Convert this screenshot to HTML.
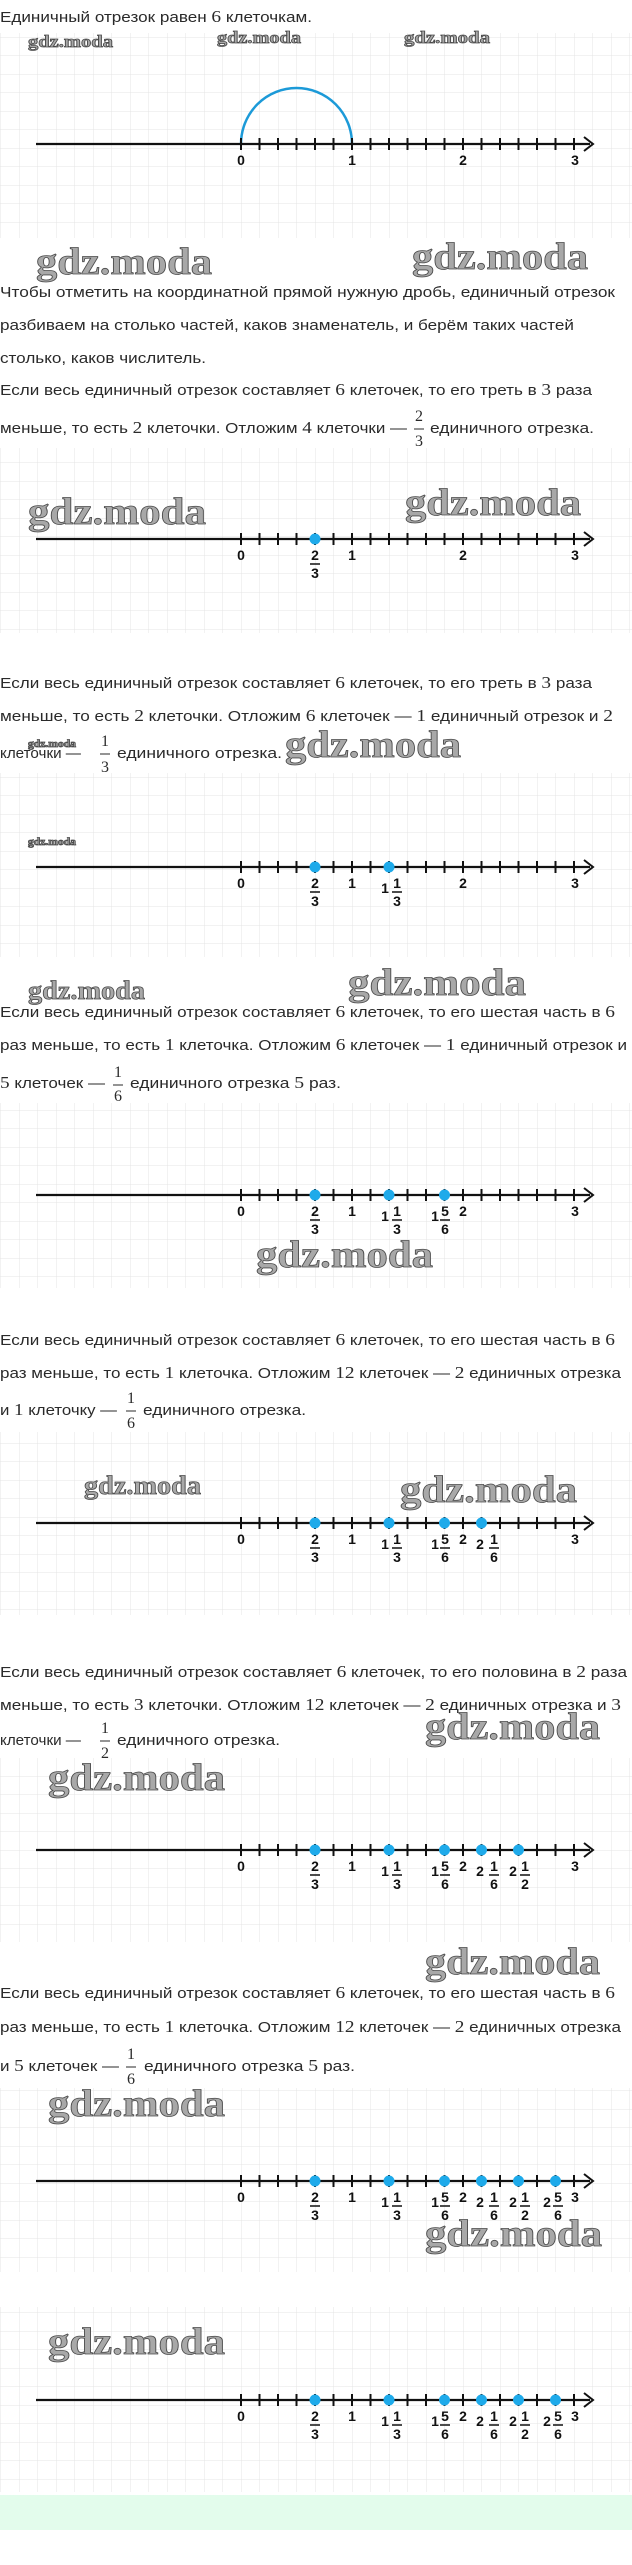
<!DOCTYPE html>
<html><head><meta charset="utf-8"><style>
html,body{margin:0;padding:0;background:#fff;}
svg{display:block;}
.t{font-family:"Liberation Sans",sans-serif;font-size:15px;fill:#2a2a2a;}
.s{font-family:"Liberation Serif",serif;font-size:17px;}
.f{font-family:"Liberation Serif",serif;font-size:16px;fill:#2a2a2a;text-anchor:middle;}
.n{font-family:"Liberation Sans",sans-serif;font-size:14px;font-weight:bold;fill:#111;text-anchor:middle;}
.wm{font-family:"Liberation Serif",serif;font-weight:bold;fill:#a8a8a8;stroke:#4a4a4a;stroke-width:0.8;}
</style></head><body>
<svg width="632" height="2565" viewBox="0 0 632 2565" xmlns="http://www.w3.org/2000/svg">
<defs>
<pattern id="g" x="241" y="0" width="18.5" height="18.5" patternUnits="userSpaceOnUse">
<path d="M0 0V18.5M0 0H18.5" stroke="#e4e4e4" stroke-width="1" fill="none"/>
</pattern>
<g id="ax">
<path d="M36 0H590" stroke="#111" stroke-width="2.2"/>
<path d="M241 -6v12M259.5 -6v12M278 -6v12M296.5 -6v12M315 -6v12M333.5 -6v12M352 -6v12M370.5 -6v12M389 -6v12M407.5 -6v12M426 -6v12M444.5 -6v12M463 -6v12M481.5 -6v12M500 -6v12M518.5 -6v12M537 -6v12M555.5 -6v12M574 -6v12" stroke="#111" stroke-width="2"/>
<path d="M584 -7L593 0L584 7" stroke="#111" stroke-width="2" fill="none"/>
</g>
</defs>
<rect x="0" y="0" width="632" height="2565" fill="#fff"/>
<!-- grids -->
<rect x="0" y="33" width="632" height="205" fill="url(#g)"/>
<rect x="0" y="448" width="632" height="185" fill="url(#g)"/>
<rect x="0" y="773" width="632" height="184" fill="url(#g)"/>
<rect x="0" y="1103" width="632" height="185" fill="url(#g)"/>
<rect x="0" y="1432" width="632" height="183" fill="url(#g)"/>
<rect x="0" y="1758" width="632" height="184" fill="url(#g)"/>
<rect x="0" y="2088" width="632" height="184" fill="url(#g)"/>
<rect x="0" y="2307" width="632" height="185" fill="url(#g)"/>
<rect x="0" y="2495" width="632" height="35" fill="#e3fcec"/>

<!-- Section 1 -->
<text class="t" x="0" y="22" textLength="312" lengthAdjust="spacingAndGlyphs">Единичный отрезок равен <tspan class="s">6</tspan> клеточкам.</text>
<text class="wm" x="28" y="47" font-size="17" textLength="85" lengthAdjust="spacingAndGlyphs">gdz.moda</text>
<text class="wm" x="217" y="43" font-size="17" textLength="84" lengthAdjust="spacingAndGlyphs">gdz.moda</text>
<text class="wm" x="404" y="43" font-size="17" textLength="86" lengthAdjust="spacingAndGlyphs">gdz.moda</text>
<path d="M241 144A55.5 56 0 0 1 352 144" stroke="#1c9ad8" stroke-width="2.5" fill="none"/>
<use href="#ax" y="144"/>
<text class="n" x="241" y="165">0</text><text class="n" x="352" y="165">1</text><text class="n" x="463" y="165">2</text><text class="n" x="575" y="165">3</text>
<text class="wm" x="36" y="274" font-size="38" textLength="176" lengthAdjust="spacingAndGlyphs">gdz.moda</text>
<text class="wm" x="412" y="269" font-size="38" textLength="176" lengthAdjust="spacingAndGlyphs">gdz.moda</text>

<!-- Para 2 -->
<text class="t" x="0" y="297" textLength="615" lengthAdjust="spacingAndGlyphs">Чтобы отметить на координатной прямой нужную дробь, единичный отрезок</text>
<text class="t" x="0" y="330" textLength="574" lengthAdjust="spacingAndGlyphs">разбиваем на столько частей, каков знаменатель, и берём таких частей</text>
<text class="t" x="0" y="363" textLength="206" lengthAdjust="spacingAndGlyphs">столько, каков числитель.</text>
<text class="t" x="0" y="395" textLength="592" lengthAdjust="spacingAndGlyphs">Если весь единичный отрезок составляет <tspan class="s">6</tspan> клеточек, то его треть в <tspan class="s">3</tspan> раза</text>
<text class="t" x="0" y="433" textLength="407" lengthAdjust="spacingAndGlyphs">меньше, то есть <tspan class="s">2</tspan> клеточки. Отложим <tspan class="s">4</tspan> клеточки —</text>
<text class="f" x="419" y="421">2</text><path d="M414 429H424" stroke="#2a2a2a" stroke-width="1"/><text class="f" x="419" y="446">3</text>
<text class="t" x="430" y="433" textLength="164" lengthAdjust="spacingAndGlyphs">единичного отрезка.</text>

<!-- Section 2 -->
<text class="wm" x="28" y="524" font-size="38" textLength="178" lengthAdjust="spacingAndGlyphs">gdz.moda</text>
<text class="wm" x="405" y="515" font-size="38" textLength="176" lengthAdjust="spacingAndGlyphs">gdz.moda</text>
<use href="#ax" y="539"/>
<circle cx="315" cy="539" r="5.5" fill="#1eaaea"/>
<text class="n" x="241" y="560">0</text><text class="n" x="352" y="560">1</text><text class="n" x="463" y="560">2</text><text class="n" x="575" y="560">3</text>
<text class="n" x="315" y="560">2</text><path d="M310 564H320" stroke="#111" stroke-width="1.5"/><text class="n" x="315" y="578">3</text>

<!-- Para 3 -->
<text class="t" x="0" y="688" textLength="592" lengthAdjust="spacingAndGlyphs">Если весь единичный отрезок составляет <tspan class="s">6</tspan> клеточек, то его треть в <tspan class="s">3</tspan> раза</text>
<text class="t" x="0" y="721" textLength="613" lengthAdjust="spacingAndGlyphs">меньше, то есть <tspan class="s">2</tspan> клеточки. Отложим <tspan class="s">6</tspan> клеточек — <tspan class="s">1</tspan> единичный отрезок и <tspan class="s">2</tspan></text>
<text class="wm" x="28" y="747" font-size="10" textLength="48" lengthAdjust="spacingAndGlyphs">gdz.moda</text>
<text class="t" x="0" y="758" textLength="81" lengthAdjust="spacingAndGlyphs">клеточки —</text>
<text class="f" x="105" y="746">1</text><path d="M100 754H110" stroke="#2a2a2a" stroke-width="1"/><text class="f" x="105" y="772">3</text>
<text class="t" x="117" y="758" textLength="165" lengthAdjust="spacingAndGlyphs">единичного отрезка.</text>
<text class="wm" x="285" y="757" font-size="38" textLength="176" lengthAdjust="spacingAndGlyphs">gdz.moda</text>

<!-- Section 3 -->
<text class="wm" x="28" y="845" font-size="10" textLength="48" lengthAdjust="spacingAndGlyphs">gdz.moda</text>
<use href="#ax" y="867"/>
<circle cx="315" cy="867" r="5.5" fill="#1eaaea"/><circle cx="389" cy="867" r="5.5" fill="#1eaaea"/>
<text class="n" x="241" y="888">0</text><text class="n" x="352" y="888">1</text><text class="n" x="463" y="888">2</text><text class="n" x="575" y="888">3</text>
<text class="n" x="315" y="888">2</text><path d="M310 892H320" stroke="#111" stroke-width="1.5"/><text class="n" x="315" y="906">3</text>
<text class="n" x="385" y="893" font-size="12">1</text><text class="n" x="397" y="888">1</text><path d="M392 892H402" stroke="#111" stroke-width="1.5"/><text class="n" x="397" y="906">3</text>
<text class="wm" x="28" y="999" font-size="26" textLength="117" lengthAdjust="spacingAndGlyphs">gdz.moda</text>
<text class="wm" x="348" y="995" font-size="38" textLength="178" lengthAdjust="spacingAndGlyphs">gdz.moda</text>

<!-- Para 4 -->
<text class="t" x="0" y="1017" textLength="615" lengthAdjust="spacingAndGlyphs">Если весь единичный отрезок составляет <tspan class="s">6</tspan> клеточек, то его шестая часть в <tspan class="s">6</tspan></text>
<text class="t" x="0" y="1050" textLength="627" lengthAdjust="spacingAndGlyphs">раз меньше, то есть <tspan class="s">1</tspan> клеточка. Отложим <tspan class="s">6</tspan> клеточек — <tspan class="s">1</tspan> единичный отрезок и</text>
<text class="t" x="0" y="1088" textLength="105" lengthAdjust="spacingAndGlyphs"><tspan class="s">5</tspan> клеточек —</text>
<text class="f" x="118" y="1077">1</text><path d="M113 1085H123" stroke="#2a2a2a" stroke-width="1"/><text class="f" x="118" y="1101">6</text>
<text class="t" x="130" y="1088" textLength="211" lengthAdjust="spacingAndGlyphs">единичного отрезка <tspan class="s">5</tspan> раз.</text>

<!-- Section 4 -->
<use href="#ax" y="1195"/>
<circle cx="315" cy="1195" r="5.5" fill="#1eaaea"/><circle cx="389" cy="1195" r="5.5" fill="#1eaaea"/><circle cx="444.5" cy="1195" r="5.5" fill="#1eaaea"/>
<text class="n" x="241" y="1216">0</text><text class="n" x="352" y="1216">1</text><text class="n" x="463" y="1216">2</text><text class="n" x="575" y="1216">3</text>
<text class="n" x="315" y="1216">2</text><path d="M310 1220H320" stroke="#111" stroke-width="1.5"/><text class="n" x="315" y="1234">3</text>
<text class="n" x="385" y="1221" font-size="12">1</text><text class="n" x="397" y="1216">1</text><path d="M392 1220H402" stroke="#111" stroke-width="1.5"/><text class="n" x="397" y="1234">3</text>
<text class="n" x="435" y="1221" font-size="12">1</text><text class="n" x="445" y="1216">5</text><path d="M440 1220H450" stroke="#111" stroke-width="1.5"/><text class="n" x="445" y="1234">6</text>
<text class="wm" x="256" y="1267" font-size="38" textLength="177" lengthAdjust="spacingAndGlyphs">gdz.moda</text>

<!-- Para 5 -->
<text class="t" x="0" y="1345" textLength="615" lengthAdjust="spacingAndGlyphs">Если весь единичный отрезок составляет <tspan class="s">6</tspan> клеточек, то его шестая часть в <tspan class="s">6</tspan></text>
<text class="t" x="0" y="1378" textLength="621" lengthAdjust="spacingAndGlyphs">раз меньше, то есть <tspan class="s">1</tspan> клеточка. Отложим <tspan class="s">12</tspan> клеточек — <tspan class="s">2</tspan> единичных отрезка</text>
<text class="t" x="0" y="1415" textLength="117" lengthAdjust="spacingAndGlyphs">и <tspan class="s">1</tspan> клеточку —</text>
<text class="f" x="131" y="1403">1</text><path d="M126 1411H136" stroke="#2a2a2a" stroke-width="1"/><text class="f" x="131" y="1428">6</text>
<text class="t" x="143" y="1415" textLength="163" lengthAdjust="spacingAndGlyphs">единичного отрезка.</text>

<!-- Section 5 -->
<text class="wm" x="84" y="1494" font-size="26" textLength="117" lengthAdjust="spacingAndGlyphs">gdz.moda</text>
<text class="wm" x="400" y="1502" font-size="38" textLength="177" lengthAdjust="spacingAndGlyphs">gdz.moda</text>
<use href="#ax" y="1523"/>
<circle cx="315" cy="1523" r="5.5" fill="#1eaaea"/><circle cx="389" cy="1523" r="5.5" fill="#1eaaea"/><circle cx="444.5" cy="1523" r="5.5" fill="#1eaaea"/><circle cx="481.5" cy="1523" r="5.5" fill="#1eaaea"/>
<text class="n" x="241" y="1544">0</text><text class="n" x="352" y="1544">1</text><text class="n" x="463" y="1544">2</text><text class="n" x="575" y="1544">3</text>
<text class="n" x="315" y="1544">2</text><path d="M310 1548H320" stroke="#111" stroke-width="1.5"/><text class="n" x="315" y="1562">3</text>
<text class="n" x="385" y="1549" font-size="12">1</text><text class="n" x="397" y="1544">1</text><path d="M392 1548H402" stroke="#111" stroke-width="1.5"/><text class="n" x="397" y="1562">3</text>
<text class="n" x="435" y="1549" font-size="12">1</text><text class="n" x="445" y="1544">5</text><path d="M440 1548H450" stroke="#111" stroke-width="1.5"/><text class="n" x="445" y="1562">6</text>
<text class="n" x="480" y="1549" font-size="13">2</text><text class="n" x="494" y="1544">1</text><path d="M489 1548H499" stroke="#111" stroke-width="1.5"/><text class="n" x="494" y="1562">6</text>

<!-- Para 6 -->
<text class="t" x="0" y="1677" textLength="627" lengthAdjust="spacingAndGlyphs">Если весь единичный отрезок составляет <tspan class="s">6</tspan> клеточек, то его половина в <tspan class="s">2</tspan> раза</text>
<text class="t" x="0" y="1710" textLength="621" lengthAdjust="spacingAndGlyphs">меньше, то есть <tspan class="s">3</tspan> клеточки. Отложим <tspan class="s">12</tspan> клеточек — <tspan class="s">2</tspan> единичных отрезка и <tspan class="s">3</tspan></text>
<text class="t" x="0" y="1745" textLength="81" lengthAdjust="spacingAndGlyphs">клеточки —</text>
<text class="f" x="105" y="1733">1</text><path d="M100 1741H110" stroke="#2a2a2a" stroke-width="1"/><text class="f" x="105" y="1758">2</text>
<text class="t" x="117" y="1745" textLength="163" lengthAdjust="spacingAndGlyphs">единичного отрезка.</text>
<text class="wm" x="425" y="1739" font-size="38" textLength="175" lengthAdjust="spacingAndGlyphs">gdz.moda</text>
<text class="wm" x="48" y="1790" font-size="38" textLength="177" lengthAdjust="spacingAndGlyphs">gdz.moda</text>

<!-- Section 6 -->
<use href="#ax" y="1850"/>
<circle cx="315" cy="1850" r="5.5" fill="#1eaaea"/><circle cx="389" cy="1850" r="5.5" fill="#1eaaea"/><circle cx="444.5" cy="1850" r="5.5" fill="#1eaaea"/><circle cx="481.5" cy="1850" r="5.5" fill="#1eaaea"/><circle cx="518.5" cy="1850" r="5.5" fill="#1eaaea"/>
<text class="n" x="241" y="1871">0</text><text class="n" x="352" y="1871">1</text><text class="n" x="463" y="1871">2</text><text class="n" x="575" y="1871">3</text>
<text class="n" x="315" y="1871">2</text><path d="M310 1875H320" stroke="#111" stroke-width="1.5"/><text class="n" x="315" y="1889">3</text>
<text class="n" x="385" y="1876" font-size="12">1</text><text class="n" x="397" y="1871">1</text><path d="M392 1875H402" stroke="#111" stroke-width="1.5"/><text class="n" x="397" y="1889">3</text>
<text class="n" x="435" y="1876" font-size="12">1</text><text class="n" x="445" y="1871">5</text><path d="M440 1875H450" stroke="#111" stroke-width="1.5"/><text class="n" x="445" y="1889">6</text>
<text class="n" x="480" y="1876" font-size="13">2</text><text class="n" x="494" y="1871">1</text><path d="M489 1875H499" stroke="#111" stroke-width="1.5"/><text class="n" x="494" y="1889">6</text>
<text class="n" x="513" y="1876" font-size="13">2</text><text class="n" x="525" y="1871">1</text><path d="M520 1875H530" stroke="#111" stroke-width="1.5"/><text class="n" x="525" y="1889">2</text>
<text class="wm" x="425" y="1974" font-size="38" textLength="175" lengthAdjust="spacingAndGlyphs">gdz.moda</text>

<!-- Para 7 -->
<text class="t" x="0" y="1998" textLength="615" lengthAdjust="spacingAndGlyphs">Если весь единичный отрезок составляет <tspan class="s">6</tspan> клеточек, то его шестая часть в <tspan class="s">6</tspan></text>
<text class="t" x="0" y="2032" textLength="621" lengthAdjust="spacingAndGlyphs">раз меньше, то есть <tspan class="s">1</tspan> клеточка. Отложим <tspan class="s">12</tspan> клеточек — <tspan class="s">2</tspan> единичных отрезка</text>
<text class="t" x="0" y="2071" textLength="119" lengthAdjust="spacingAndGlyphs">и <tspan class="s">5</tspan> клеточек —</text>
<text class="f" x="131" y="2059">1</text><path d="M126 2067H136" stroke="#2a2a2a" stroke-width="1"/><text class="f" x="131" y="2084">6</text>
<text class="t" x="144" y="2071" textLength="211" lengthAdjust="spacingAndGlyphs">единичного отрезка <tspan class="s">5</tspan> раз.</text>

<!-- Section 7 -->
<text class="wm" x="48" y="2116" font-size="38" textLength="177" lengthAdjust="spacingAndGlyphs">gdz.moda</text>
<use href="#ax" y="2181"/>
<circle cx="315" cy="2181" r="5.5" fill="#1eaaea"/><circle cx="389" cy="2181" r="5.5" fill="#1eaaea"/><circle cx="444.5" cy="2181" r="5.5" fill="#1eaaea"/><circle cx="481.5" cy="2181" r="5.5" fill="#1eaaea"/><circle cx="518.5" cy="2181" r="5.5" fill="#1eaaea"/><circle cx="555.5" cy="2181" r="5.5" fill="#1eaaea"/>
<text class="n" x="241" y="2202">0</text><text class="n" x="352" y="2202">1</text><text class="n" x="463" y="2202">2</text><text class="n" x="575" y="2202">3</text>
<text class="n" x="315" y="2202">2</text><path d="M310 2206H320" stroke="#111" stroke-width="1.5"/><text class="n" x="315" y="2220">3</text>
<text class="n" x="385" y="2207" font-size="12">1</text><text class="n" x="397" y="2202">1</text><path d="M392 2206H402" stroke="#111" stroke-width="1.5"/><text class="n" x="397" y="2220">3</text>
<text class="n" x="435" y="2207" font-size="12">1</text><text class="n" x="445" y="2202">5</text><path d="M440 2206H450" stroke="#111" stroke-width="1.5"/><text class="n" x="445" y="2220">6</text>
<text class="n" x="480" y="2207" font-size="13">2</text><text class="n" x="494" y="2202">1</text><path d="M489 2206H499" stroke="#111" stroke-width="1.5"/><text class="n" x="494" y="2220">6</text>
<text class="n" x="513" y="2207" font-size="13">2</text><text class="n" x="525" y="2202">1</text><path d="M520 2206H530" stroke="#111" stroke-width="1.5"/><text class="n" x="525" y="2220">2</text>
<text class="n" x="547" y="2207" font-size="13">2</text><text class="n" x="558" y="2202">5</text><path d="M553 2206H563" stroke="#111" stroke-width="1.5"/><text class="n" x="558" y="2220">6</text>
<text class="wm" x="425" y="2246" font-size="38" textLength="177" lengthAdjust="spacingAndGlyphs">gdz.moda</text>

<!-- Section 8 -->
<text class="wm" x="48" y="2354" font-size="38" textLength="177" lengthAdjust="spacingAndGlyphs">gdz.moda</text>
<use href="#ax" y="2400"/>
<circle cx="315" cy="2400" r="5.5" fill="#1eaaea"/><circle cx="389" cy="2400" r="5.5" fill="#1eaaea"/><circle cx="444.5" cy="2400" r="5.5" fill="#1eaaea"/><circle cx="481.5" cy="2400" r="5.5" fill="#1eaaea"/><circle cx="518.5" cy="2400" r="5.5" fill="#1eaaea"/><circle cx="555.5" cy="2400" r="5.5" fill="#1eaaea"/>
<text class="n" x="241" y="2421">0</text><text class="n" x="352" y="2421">1</text><text class="n" x="463" y="2421">2</text><text class="n" x="575" y="2421">3</text>
<text class="n" x="315" y="2421">2</text><path d="M310 2425H320" stroke="#111" stroke-width="1.5"/><text class="n" x="315" y="2439">3</text>
<text class="n" x="385" y="2426" font-size="12">1</text><text class="n" x="397" y="2421">1</text><path d="M392 2425H402" stroke="#111" stroke-width="1.5"/><text class="n" x="397" y="2439">3</text>
<text class="n" x="435" y="2426" font-size="12">1</text><text class="n" x="445" y="2421">5</text><path d="M440 2425H450" stroke="#111" stroke-width="1.5"/><text class="n" x="445" y="2439">6</text>
<text class="n" x="480" y="2426" font-size="13">2</text><text class="n" x="494" y="2421">1</text><path d="M489 2425H499" stroke="#111" stroke-width="1.5"/><text class="n" x="494" y="2439">6</text>
<text class="n" x="513" y="2426" font-size="13">2</text><text class="n" x="525" y="2421">1</text><path d="M520 2425H530" stroke="#111" stroke-width="1.5"/><text class="n" x="525" y="2439">2</text>
<text class="n" x="547" y="2426" font-size="13">2</text><text class="n" x="558" y="2421">5</text><path d="M553 2425H563" stroke="#111" stroke-width="1.5"/><text class="n" x="558" y="2439">6</text>
</svg>
</body></html>
